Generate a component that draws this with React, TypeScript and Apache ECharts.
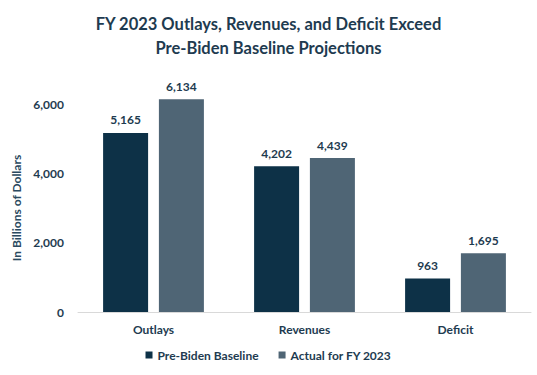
import React, { useEffect, useRef } from "react";
import * as echarts from "echarts";

const categories = ["Outlays", "Revenues", "Deficit"];
const baselineValues = [5165, 4202, 963];
const actualValues = [6134, 4439, 1695];
const seriesNames = ["Pre-Biden Baseline", "Actual for FY 2023"];
const titleLines = ["FY 2023 Outlays, Revenues, and Deficit Exceed", "Pre-Biden Baseline Projections"];
const yAxisName = "In Billions of Dollars";

const TEXT = "#1E3B50";
const DARK = "#0D3147";
const SLATE = "#4F6575";
const FONT = "Lato";

export default function App() {
  const ref = useRef<HTMLDivElement>(null);
  useEffect(() => {
    if (!ref.current) return;
    const chart = echarts.init(ref.current, null, { renderer: "svg" });
    const label = {
      show: true,
      position: "top",
      distance: 7,
      color: TEXT,
      fontFamily: FONT,
      fontWeight: "bold",
      fontSize: 12,
      formatter: (p: any) => Number(p.value).toLocaleString("en-US"),
    };
    chart.setOption({
      animation: false,
      backgroundColor: "#ffffff",
      title: {
        text: titleLines.join("\n"),
        left: "center",
        top: 7,
        textStyle: {
          color: TEXT,
          fontFamily: FONT,
          fontWeight: "bold",
          fontSize: 16.5,
          lineHeight: 24,
        },
      },
      legend: {
        data: seriesNames,
        bottom: 9,
        left: "center",
        icon: "rect",
        itemWidth: 7,
        itemHeight: 7,
        itemGap: 20,
        textStyle: { color: TEXT, fontFamily: FONT, fontWeight: "bold", fontSize: 12 },
      },
      grid: { left: 78, right: 6, top: 104, bottom: 63 },
      xAxis: {
        type: "category",
        data: categories,
        axisLine: { lineStyle: { color: "#D9D9D9", width: 1 } },
        axisTick: { show: false },
        axisLabel: { color: TEXT, fontFamily: FONT, fontWeight: "bold", fontSize: 12, margin: 11 },
      },
      yAxis: {
        type: "value",
        min: 0,
        max: 6000,
        interval: 2000,
        name: yAxisName,
        nameLocation: "middle",
        nameGap: 44,
        nameTextStyle: { color: "#2B4A60", fontFamily: FONT, fontWeight: "bold", fontSize: 12 },
        axisLine: { show: false },
        axisTick: { show: false },
        splitLine: { show: false },
        axisLabel: {
          color: TEXT,
          fontFamily: FONT,
          fontWeight: "bold",
          fontSize: 12,
          margin: 14,
          formatter: (v: number) => v.toLocaleString("en-US"),
        },
      },
      series: [
        {
          name: seriesNames[0],
          type: "bar",
          data: baselineValues,
          barWidth: 45,
          barGap: "24%",
          clip: false,
          itemStyle: { color: DARK },
          label,
        },
        {
          name: seriesNames[1],
          type: "bar",
          data: actualValues,
          barWidth: 45,
          barGap: "24%",
          clip: false,
          itemStyle: { color: SLATE },
          label,
        },
      ],
    });
    return () => chart.dispose();
  }, []);
  return <div ref={ref} style={{ width: 537, height: 375, position: "absolute", left: 0, top: 0 }} />;
}
